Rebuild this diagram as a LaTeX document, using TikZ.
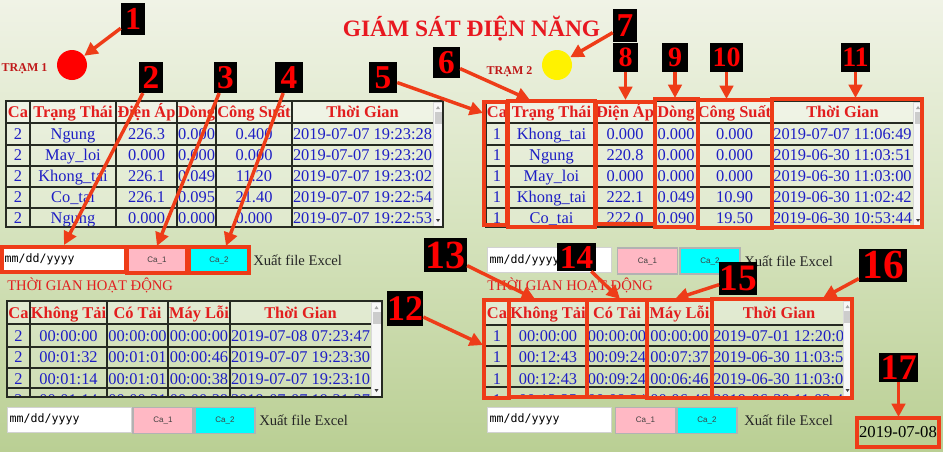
\documentclass[tikz,border=0pt]{standalone}
\usepackage{fontspec}
\setmainfont{Liberation Serif}
\setsansfont{Liberation Sans}
\setmonofont{DejaVu Sans Mono}
\usetikzlibrary{arrows.meta}

\definecolor{hilite}{RGB}{238,60,24}
\definecolor{titred}{RGB}{232,24,32}
\definecolor{hdred}{RGB}{226,30,30}
\definecolor{datblue}{RGB}{30,30,196}
\definecolor{gridc}{RGB}{38,42,34}
\definecolor{bgtop}{RGB}{240,243,230}
\definecolor{bgmid}{RGB}{214,227,190}
\definecolor{bgbot}{RGB}{186,207,148}
\definecolor{capink}{RGB}{255,184,196}
\definecolor{cacyan}{RGB}{0,255,255}

\tikzset{
  badge/.style n args={3}{fill=black, text=red, inner sep=0pt,
    minimum width=#1, minimum height=#2, font=\fontsize{#3}{#3}\selectfont\bfseries},
  pointer/.style={draw=hilite, line width=2.6pt, -{Triangle[length=10pt,width=10pt]}},
  hibox/.style={draw=hilite, line width=2.7pt},
  hd/.style={anchor=base, text=hdred, inner sep=0pt, font=\fontsize{12.3}{14}\selectfont\bfseries},
  cell/.style={anchor=base, text=datblue, inner sep=0pt, font=\fontsize{12.3}{14}\selectfont},
  rowline/.style={draw=gridc, line width=1.3pt},
  colline/.style={draw=gridc, line width=0.9pt},
  frame/.style={draw=gridc, line width=1.5pt},
  sbar/.style={fill=gray!6, draw=gray!30, line width=0.4pt},
  datebox/.style={fill=white, draw=gray!35, line width=0.5pt, minimum width=93pt, minimum height=18.5pt,
    text width=89pt, align=left, inner sep=2pt, font=\ttfamily\fontsize{8.7}{9}\selectfont},
  btn/.style={draw=gray!60, line width=0.8pt, minimum width=45pt, minimum height=19.5pt,
    inner sep=0pt, font=\sffamily\fontsize{6}{6}\selectfont, text=black!75},
  xls/.style={anchor=base west, inner sep=0pt, font=\fontsize{11}{12}\selectfont, text=black!85},
  section/.style={anchor=base west, inner sep=0pt, font=\fontsize{11}{12}\selectfont, text=hdred},
  station/.style={circle, minimum size=22.5pt, inner sep=0pt},
  stlabel/.style={anchor=base, inner sep=0pt, font=\fontsize{9}{10}\selectfont\bfseries, text=hdred!85!black}
}

\begin{document}
\begin{tikzpicture}[x=0.75pt, y=-0.75pt]
\useasboundingbox (0,0) rectangle (943,451);
\shade[top color=bgtop, bottom color=bgbot, middle color=bgmid] (0,0) rectangle (943,451);

% title and stations
\node[anchor=base, inner sep=0pt, font=\fontsize{17.6}{20}\selectfont\bfseries, text=titred] (title) at (471.5,36) {GIÁM SÁT ĐIỆN NĂNG};
\node[stlabel] (lbl1) at (24.5,71) {TRẠM 1};
\node[station, fill=red] (st1) at (72,65) {};
\node[stlabel] (lbl2) at (509.5,74) {TRẠM 2};
\node[station, fill=yellow] (st2) at (557,65) {};

%% top left table
\fill[white, opacity=.25] (6,101) rectangle (443,227);
\fill[white, opacity=.25] (6,101) rectangle (433,123);
\foreach \y in {123,145,166,187,208} \draw[rowline] (6,\y) -- (433,\y);
\foreach \x in {30,116,177,216,292} \draw[colline] (\x,101) -- (\x,227);
\foreach \h/\x [count=\i] in {Ca/18, Trạng Thái/73, Điện Áp/146.5, Dòng/196.5, Công Suất/254, Thời Gian/362.5}
  \node[hd] (hA\i) at (\x,117.5) {\h};
\begin{scope}
\clip (6,101) rectangle (433,226);
\foreach \ca/\st/\ua/\dg/\cs/\tg [count=\r] in {
  2/Ngung/226.3/0.000/0.400/2019-07-07 19:23:28,
  2/May\_loi/0.000/0.000/0.000/2019-07-07 19:23:20,
  2/Khong\_tai/226.1/0.049/11.20/2019-07-07 19:23:02,
  2/Co\_tai/226.1/0.095/21.40/2019-07-07 19:22:54,
  2/Ngung/0.000/0.000/0.000/2019-07-07 19:22:53}{
  \node[cell] (dA\r-1) at (18,{118.5+21*\r}) {\ca};
  \node[cell] (dA\r-2) at (73,{118.5+21*\r}) {\st};
  \node[cell] (dA\r-3) at (146.5,{118.5+21*\r}) {\ua};
  \node[cell] (dA\r-4) at (196.5,{118.5+21*\r}) {\dg};
  \node[cell] (dA\r-5) at (254,{118.5+21*\r}) {\cs};
  \node[cell] (dA\r-6) at (362.5,{118.5+21*\r}) {\tg};
}
\end{scope}
\draw[sbar] (433,102) rectangle (443,226);
\fill[gray!40] (434.5,112) rectangle (441.5,124);
\fill[gray!70] (436,109) -- (440,109) -- (438,106) -- cycle;
\fill[black!75] (436,219) -- (440,219) -- (438,222) -- cycle;
\draw[frame] (6,101) rectangle (443,227);

%% top right table
\begin{scope}[shift={(480,0)}]
\fill[white, opacity=.25] (6,101) rectangle (443,227);
\fill[white, opacity=.25] (6,101) rectangle (433,123);
\foreach \y in {123,145,166,187,208} \draw[rowline] (6,\y) -- (433,\y);
\foreach \x in {28,115,175,217,292} \draw[colline] (\x,101) -- (\x,227);
\foreach \h/\x [count=\i] in {Ca/17, Trạng Thái/71.5, Điện Áp/145, Dòng/196, Công Suất/254.5, Thời Gian/362.5}
  \node[hd] (hB\i) at (\x,117.5) {\h};
\begin{scope}
\clip (6,101) rectangle (433,226);
\foreach \ca/\st/\ua/\dg/\cs/\tg [count=\r] in {
  1/Khong\_tai/0.000/0.000/0.000/2019-07-07 11:06:49,
  1/Ngung/220.8/0.000/0.000/2019-06-30 11:03:51,
  1/May\_loi/0.000/0.000/0.000/2019-06-30 11:03:00,
  1/Khong\_tai/222.1/0.049/10.90/2019-06-30 11:02:42,
  1/Co\_tai/222.0/0.090/19.50/2019-06-30 10:53:44}{
  \node[cell] (dB\r-1) at (17,{118.5+21*\r}) {\ca};
  \node[cell] (dB\r-2) at (71.5,{118.5+21*\r}) {\st};
  \node[cell] (dB\r-3) at (145,{118.5+21*\r}) {\ua};
  \node[cell] (dB\r-4) at (196,{118.5+21*\r}) {\dg};
  \node[cell] (dB\r-5) at (254.5,{118.5+21*\r}) {\cs};
  \node[cell] (dB\r-6) at (362.5,{118.5+21*\r}) {\tg};
}
\end{scope}
\draw[sbar] (433,102) rectangle (443,226);
\fill[gray!40] (434.5,112) rectangle (441.5,124);
\fill[gray!70] (436,109) -- (440,109) -- (438,106) -- cycle;
\fill[black!75] (436,219) -- (440,219) -- (438,222) -- cycle;
\draw[frame] (6,101) rectangle (443,227);
\end{scope}

%% bottom left table
\fill[white, opacity=.25] (7,301) rectangle (382,397);
\fill[white, opacity=.25] (7,301) rectangle (371,324);
\foreach \y in {324,347,368,388} \draw[rowline] (7,\y) -- (371,\y);
\foreach \x in {30,107,168,230} \draw[colline] (\x,301) -- (\x,397);
\foreach \h/\x [count=\i] in {Ca/18.5, Không Tải/68.5, Có Tải/137.5, Máy Lỗi/199, Thời Gian/300.5}
  \node[hd] (hC\i) at (\x,318) {\h};
\begin{scope}
\clip (7,301) rectangle (371,396);
\foreach \ca/\kt/\ct/\ml/\tg [count=\r] in {
  2/00:00:00/00:00:00/00:00:00/2019-07-08 07:23:47,
  2/00:01:32/00:01:01/00:00:46/2019-07-07 19:23:30,
  2/00:01:14/00:01:01/00:00:38/2019-07-07 19:23:10,
  2/00:01:14/00:00:31/00:00:38/2019-07-07 19:21:37}{
  \node[cell] (dC\r-1) at (18.5,{319.5+21.5*\r}) {\ca};
  \node[cell] (dC\r-2) at (68.5,{319.5+21.5*\r}) {\kt};
  \node[cell] (dC\r-3) at (137.5,{319.5+21.5*\r}) {\ct};
  \node[cell] (dC\r-4) at (199,{319.5+21.5*\r}) {\ml};
  \node[cell] (dC\r-5) at (300.5,{319.5+21.5*\r}) {\tg};
}
\end{scope}
\draw[sbar] (371,302) rectangle (382,396);
\fill[gray!40] (372.5,312) rectangle (380.5,324);
\fill[gray!70] (374.5,309) -- (378.5,309) -- (376.5,306) -- cycle;
\fill[black!75] (374.5,389) -- (378.5,389) -- (376.5,392) -- cycle;
\draw[frame] (7,301) rectangle (382,397);

%% bottom right table
\fill[white, opacity=.25] (486,300) rectangle (852,397);
\fill[white, opacity=.25] (486,300) rectangle (843,325);
\foreach \y in {325,346,366,387} \draw[rowline] (486,\y) -- (843,\y);
\foreach \x in {509,587,647,712} \draw[colline] (\x,300) -- (\x,397);
\foreach \h/\x [count=\i] in {Ca/497, Không Tải/548, Có Tải/617, Máy Lỗi/679.5, Thời Gian/779}
  \node[hd] (hD\i) at (\x,318) {\h};
\begin{scope}
\clip (486,300) rectangle (843,396);
\foreach \ca/\kt/\ct/\ml/\tg [count=\r] in {
  1/00:00:00/00:00:00/00:00:00/2019-07-01 12:20:05,
  1/00:12:43/00:09:24/00:07:37/2019-06-30 11:03:51,
  1/00:12:43/00:09:24/00:06:46/2019-06-30 11:03:00,
  1/00:13:25/00:08:24/00:06:46/2019-06-30 11:02:42}{
  \node[cell] (dD\r-1) at (497,{319.5+21.5*\r}) {\ca};
  \node[cell] (dD\r-2) at (548,{319.5+21.5*\r}) {\kt};
  \node[cell] (dD\r-3) at (617,{319.5+21.5*\r}) {\ct};
  \node[cell] (dD\r-4) at (679.5,{319.5+21.5*\r}) {\ml};
  \node[cell, anchor=base west] (dD\r-5) at (713,{319.5+21.5*\r}) {\tg};
}
\end{scope}
\draw[sbar] (843,301) rectangle (852,396);
\fill[gray!40] (844.2,311) rectangle (850.8,323);
\fill[gray!70] (845.5,308) -- (849.5,308) -- (847.5,305) -- cycle;
\fill[black!75] (845.5,389) -- (849.5,389) -- (847.5,392) -- cycle;

%% date boxes, buttons, export
\node[datebox, hibox] (dateA) at (64,259.5) {mm/dd/yyyy};
\node[btn, fill=capink, hibox] (c1A) at (157,260) {Ca\_1};
\node[btn, fill=cacyan, hibox] (c2A) at (219,260) {Ca\_2};
\node[xls] (xlA) at (253,265) {Xuất file Excel};

\node[datebox] (dateB) at (549,260) {mm/dd/yyyy};
\node[btn, fill=capink] (c1B) at (647.5,261) {Ca\_1};
\node[btn, fill=cacyan] (c2B) at (710,261) {Ca\_2};
\node[xls] (xlB) at (744,266) {Xuất file Excel};

\node[datebox] (dateC) at (69,419.5) {mm/dd/yyyy};
\node[btn, fill=capink] (c1C) at (163,420.5) {Ca\_1};
\node[btn, fill=cacyan] (c2C) at (225,420.5) {Ca\_2};
\node[xls] (xlC) at (259,425) {Xuất file Excel};

\node[datebox] (dateD) at (549,419.5) {mm/dd/yyyy};
\node[btn, fill=capink] (c1D) at (645.5,420.5) {Ca\_1};
\node[btn, fill=cacyan] (c2D) at (707,420.5) {Ca\_2};
\node[xls] (xlD) at (744,425) {Xuất file Excel};

\node[section] (secA) at (7,290) {THỜI GIAN HOẠT ĐỘNG};
\node[section] (secB) at (487,290) {THỜI GIAN HOẠT ĐỘNG};

\node[hibox, minimum width=61.5pt, minimum height=21.5pt, inner sep=0pt,
  font=\fontsize{12.5}{13}\selectfont] (today) at (898,432.5) {2019-07-08};

%% highlighted columns
\draw[hibox] (484,102) rectangle (507,225);
\draw[hibox] (508,101) rectangle (595,227);
\draw[hibox] (596,102) rectangle (655,224);
\draw[hibox] (655,99) rectangle (698,227);
\draw[hibox] (698,100) rectangle (772,228);
\draw[hibox] (772,99) rectangle (922,227);

\draw[hibox] (484,300) rectangle (509,398);
\draw[hibox] (509,300) rectangle (587,397);
\draw[hibox] (587,300) rectangle (647,397);
\draw[hibox] (647,300) rectangle (712,398);
\draw[hibox] (712,299) rectangle (852,398);

%% arrow ends
\coordinate (p2) at (64,245);
\coordinate (p3) at (157,246);
\coordinate (p4) at (226,246);
\coordinate (p5) at (483,113);
\coordinate (p6) at (530,100);
\coordinate (p8) at (625.5,100);
\coordinate (p9) at (675,98);
\coordinate (p10) at (726.5,99);
\coordinate (p11) at (855.5,98);
\coordinate (p12) at (483,345);
\coordinate (p13) at (535,299);
\coordinate (p14) at (620,299);
\coordinate (p15) at (675,299);
\coordinate (p16) at (823,298);
\coordinate (p17) at (898.5,417);

%% numbered badges
\node[badge={18pt}{24pt}{24}] (b1) at (133,19) {1};
\node[badge={18pt}{23pt}{25}] (b2) at (151,77.5) {2};
\node[badge={17.5pt}{23pt}{25}] (b3) at (225.5,77.5) {3};
\node[badge={21pt}{23pt}{25}] (b4) at (289,77.5) {4};
\node[badge={21pt}{23pt}{25}] (b5) at (383,77.5) {5};
\node[badge={20pt}{23pt}{25}] (b6) at (446.5,62.5) {6};
\node[badge={18pt}{25pt}{25}] (b7) at (625,25.5) {7};
\node[badge={19pt}{22pt}{21}] (b8) at (625.5,57.5) {8};
\node[badge={19.5pt}{22pt}{21}] (b9) at (675,57.5) {9};
\node[badge={25pt}{22pt}{21}] (b10) at (726.5,57.5) {10};
\node[badge={22pt}{22pt}{21}] (b11) at (855.5,57.5) {11};
\node[badge={27pt}{26pt}{27}] (b12) at (405,308.5) {12};
\node[badge={32pt}{25.5pt}{30}] (b13) at (445.5,255) {13};
\node[badge={29pt}{21pt}{25}] (b14) at (576.5,257) {14};
\node[badge={25.5pt}{25pt}{28}] (b15) at (738,278.5) {15};
\node[badge={36pt}{25pt}{31}] (b16) at (883,265.5) {16};
\node[badge={29pt}{22pt}{27}] (b17) at (898.5,367.5) {17};

%% pointers
\draw[pointer] (b1) -- (st1);
\draw[pointer] (b2) -- (p2);
\draw[pointer] (b3) -- (p3);
\draw[pointer] (b4) -- (p4);
\draw[pointer] (b5) -- (p5);
\draw[pointer] (b6) -- (p6);
\draw[pointer] (b7) -- (st2);
\foreach \n in {8,9,10,11} \draw[pointer] (b\n) -- (p\n);
\foreach \n in {12,13,14,15,16,17} \draw[pointer] (b\n) -- (p\n);
\end{tikzpicture}
\end{document}
